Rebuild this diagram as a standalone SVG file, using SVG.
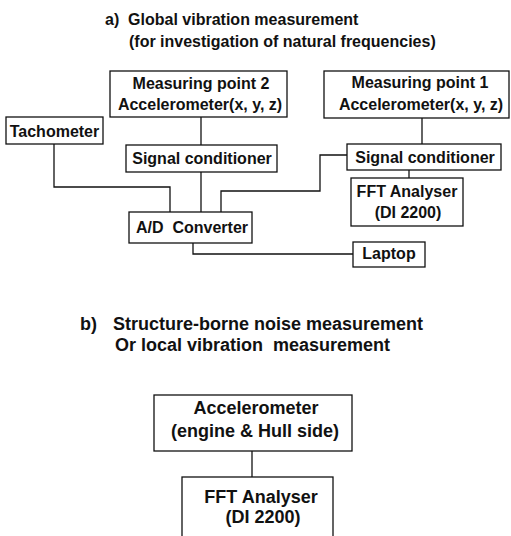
<svg xmlns="http://www.w3.org/2000/svg" width="511" height="536" viewBox="0 0 511 536">
<style>
  .box { fill: #fff; stroke: #111; stroke-width: 1.3; }
  .wire { fill: none; stroke: #111; stroke-width: 1.3; }
  text { font-family: "Liberation Sans", Arial, sans-serif; font-weight: bold; fill: #111; white-space: pre; }
  .t16 { font-size: 16px; }
  .t18 { font-size: 18px; }
  .c { text-anchor: middle; }
</style>
<rect width="511" height="536" fill="#fff"/>

<g id="title-a">
  <text class="t16" x="105" y="25">a)  Global vibration measurement</text>
  <text class="t16" x="129" y="47">(for investigation of natural frequencies)</text>
</g>

<g id="connectors">
  <polyline class="wire" points="201,117 201,145"/>
  <polyline class="wire" points="201,172 201,212"/>
  <polyline class="wire" points="54,144 54,187 170,187 170,212"/>
  <polyline class="wire" points="221,212 221,191 320,191 320,155 347,155"/>
  <polyline class="wire" points="422,118 422,144"/>
  <polyline class="wire" points="409,170 409,178"/>
  <polyline class="wire" points="193,243 193,254 353,254"/>
  <polyline class="wire" points="252,451 252,477"/>
</g>

<g id="mp2">
  <rect class="box" x="110" y="71" width="177" height="46"/>
  <text class="t16 c" x="201" y="89">Measuring point 2</text>
  <text class="t16 c" x="200" y="110">Accelerometer(x, y, z)</text>
</g>

<g id="mp1">
  <rect class="box" x="324" y="71" width="185" height="47"/>
  <text class="t16 c" x="420" y="88">Measuring point 1</text>
  <text class="t16 c" x="421" y="110">Accelerometer(x, y, z)</text>
</g>

<g id="tachometer">
  <rect class="box" x="6" y="117" width="97" height="27"/>
  <text class="t16 c" x="54.5" y="137">Tachometer</text>
</g>

<g id="sc1">
  <rect class="box" x="126" y="145" width="151" height="27"/>
  <text class="t16 c" x="202" y="164">Signal conditioner</text>
</g>

<g id="sc2">
  <rect class="box" x="347" y="144" width="154" height="26"/>
  <text class="t16 c" x="425" y="163">Signal conditioner</text>
</g>

<g id="fft1">
  <rect class="box" x="351" y="178" width="112" height="48"/>
  <text class="t16 c" x="407" y="197">FFT Analyser</text>
  <text class="t16 c" x="408" y="218">(DI 2200)</text>
</g>

<g id="adc">
  <rect class="box" x="129" y="212" width="123" height="31"/>
  <text class="t16 c" x="192" y="233">A/D  Converter</text>
</g>

<g id="laptop">
  <rect class="box" x="353" y="242" width="72" height="25"/>
  <text class="t16 c" x="389" y="259">Laptop</text>
</g>

<g id="title-b">
  <text class="t18" x="80" y="330">b)</text>
  <text class="t18" x="113" y="330">Structure-borne noise measurement</text>
  <text class="t18" x="115" y="351">Or local vibration  measurement</text>
</g>

<g id="acc">
  <rect class="box" x="154" y="395" width="198" height="56"/>
  <text class="t18 c" x="256" y="414">Accelerometer</text>
  <text class="t18 c" x="255" y="437">(engine &amp; Hull side)</text>
</g>

<g id="fft2">
  <rect class="box" x="182" y="477" width="151" height="70"/>
  <text class="t18 c" x="261" y="503">FFT Analyser</text>
  <text class="t18 c" x="263" y="523">(DI 2200)</text>
</g>
</svg>
